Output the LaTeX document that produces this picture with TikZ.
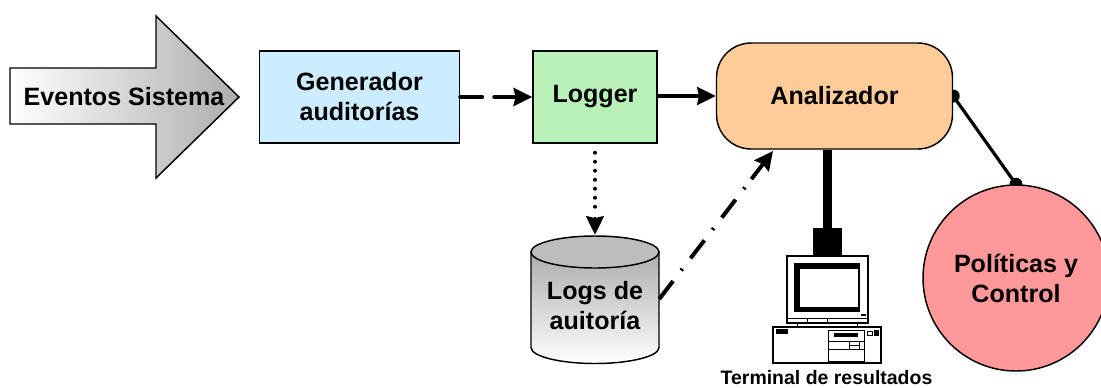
\documentclass[tikz,border=0pt]{standalone}
\usepackage{fontspec}
\setmainfont{Liberation Sans}
\usetikzlibrary{arrows.meta,backgrounds,calc}
\tikzset{
  caja/.style={draw,line width=1.1pt,align=center,font=\fontsize{18.8}{22.5}\selectfont\bfseries},
  texto/.style={align=center,inner sep=0pt,font=\fontsize{18.8}{22.5}\selectfont\bfseries},
  linea/.style={line width=1.1pt},
  flecha/.style={-{Stealth[length=14pt,width=13.5pt,inset=1.5pt]}},
  pc/.style={draw,line width=0.9pt,fill=white}
}
\begin{document}
\begin{tikzpicture}[x=0.75pt,y=-0.75pt,>=stealth]
	\clip (0,0) rectangle (1101,387);

	% flecha de entrada
	\shadedraw[linea,left color=white,right color=black!32] (10,68) -- (156,68) -- (156,16) -- (239,97)
		-- (156,178) -- (156,124) -- (10,124) -- cycle;
	\node[texto] (eventos) at (124,97) {Eventos Sistema};

	% cajas
	\node[caja,minimum width=150pt,minimum height=69pt,fill={rgb,255:red,204;green,236;blue,255}] (generador) at (359.5,97) {Generador\\auditorías};
	\node[caja,fill={rgb,255:red,185;green,242;blue,185},minimum width=93pt,minimum height=69pt] (logger) at (595,97) {Logger};
	\node[caja,fill={rgb,255:red,255;green,204;blue,153},rounded corners=26pt,minimum width=177pt,minimum height=79.5pt] (analizador) at (834.5,96) {Analizador};

	% cilindro de logs
	\shadedraw[linea,top color=black!32,bottom color=white] (531,252) -- (531,347.5)
		arc[start angle=180,end angle=0,x radius=64,y radius=16] -- (659,252) -- cycle;
	\filldraw[linea,fill=black!26] (595,252) ellipse[x radius=64,y radius=16];
	\node[texto,minimum width=96pt,minimum height=96pt] (logs) at (595,299) {};
	\node[texto] (logstxt) at (595,305.5) {Logs de\\auitoría};

	% politicas
	\node[caja,circle,fill={rgb,255:red,255;green,153;blue,153},minimum size=139.5pt,inner sep=0pt] (politicas) at (1016,278) {Políticas y\\Control};

	% conectores
	\draw[line width=3pt,line cap=round] (generador.east) -- ($(generador.east)+(22,0)$);
	\draw[flecha,line width=3pt,line cap=round] ($(logger.west)+(-38,0)$) -- (logger.west);
	\draw[flecha,line width=2.4pt] (logger.east |- analizador.west) -- (analizador.west);
	\draw[line width=3pt,line cap=round,dash pattern=on 0pt off 6.75pt] ($(logger.south)+(0,9)$) -- ($(logs.north)+(0,-22)$);
	\draw[flecha,line width=2pt] ($(logs.north)+(0,-18)$) -- (logs.north);
	\coordinate (llegada) at (773,151);
	\draw[line width=3pt,dash pattern=on 17pt off 10pt on 1.5pt off 10pt] (logs.east) -- ($(logs.east)!0.77!(llegada)$);
	\draw[flecha,line width=3pt] ($(logs.east)!0.81!(llegada)$) -- (llegada);

	% terminal
	\node[fill=black,minimum width=21.6pt,minimum height=21pt,inner sep=0pt] (bloque) at (827.5,242) {};
	\begin{scope}[on background layer]
		\draw[line width=7.2pt] (bloque.north |- analizador.south) -- (bloque.north);
		\draw[line width=2.4pt] (analizador.east) -- (politicas.north);
		\fill (analizador.east) circle (6.5);
		\fill (politicas.north) circle (6.5);
	\end{scope}
	\draw[pc] (787,256) rectangle (868,323);
	\fill (794,263) rectangle (860,312);
	\fill[white] (800,269) rectangle (858,307);
	\draw[line width=0.7pt] (787,318) -- (868,318) (807,318) -- (807,323) (827,318) -- (827,323);
	\fill (861,314) rectangle (866,316);
	\draw[line width=0.7pt] (797,323) -- (797,327) (857,323) -- (857,327);
	\draw[pc] (773,327) rectangle (881,363);
	\fill (776,329) rectangle (788,334);
	\draw[line width=0.7pt] (828,330) rectangle (864,361) (828,341) -- (864,341) (828,349) -- (864,349);
	\fill (834,333) rectangle (858,337);
	\draw[line width=0.7pt] (849,341) rectangle (859,349) (849,345) -- (859,345);
	\draw[line width=0.7pt] (867,331) rectangle (872,335);
	\fill (874,330) rectangle (879,336);
	\node[font=\fontsize{14.6}{17}\selectfont\bfseries,inner sep=0pt,anchor=base] (terminal) at (826.5,384.5) {Terminal de resultados};
\end{tikzpicture}
\end{document}
